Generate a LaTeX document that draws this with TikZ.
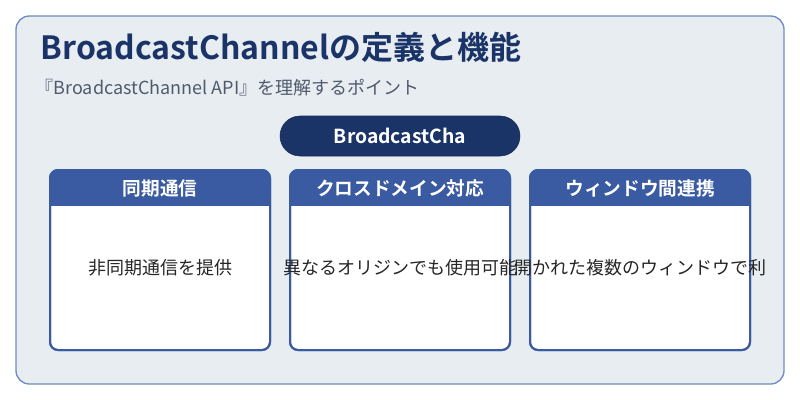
\documentclass[tikz,border=0pt]{standalone}
\usepackage{fontspec}
\setmainfont{Noto Sans CJK JP}
\newfontfamily\jpbold{Noto Sans CJK JP Bold}
\usetikzlibrary{positioning}
\definecolor{panelbg}{HTML}{E8EDF2}
\definecolor{panelline}{HTML}{6F8CC0}
\definecolor{navy}{HTML}{1B3468}
\definecolor{headblue}{HTML}{3A5BA2}
\definecolor{subgray}{HTML}{4F5B6B}
\begin{document}
\begin{tikzpicture}[x=0.75pt, y=-0.75pt,
  cardbody/.style={draw=headblue, line width=1.5pt, fill=white, rounded corners=6pt},
  cardhead/.style={font=\jpbold\fontsize{14}{16}\selectfont, text=white},
  cardtext/.style={font=\fontsize{13.5}{16}\selectfont, text=black!85}]
   \useasboundingbox (0,0) rectangle (800,400);
   \fill[white] (0,0) rectangle (800,400);
   \draw[panelline, fill=panelbg, line width=1pt, rounded corners=10pt] (16,16) rectangle (784,384);
   \node[anchor=west, text=navy, font=\jpbold\fontsize{24}{28}\selectfont] (title) at (36,47) {BroadcastChannelの定義と機能};
   \node[anchor=west, text=subgray, font=\fontsize{13.5}{16}\selectfont] (sub) at (31,88) {『BroadcastChannel API』を理解するポイント};
   \draw[fill=navy, draw=navy!80!black, rounded corners=15pt] (280,116) rectangle (520,156);
   \node[text=white, font=\jpbold\fontsize{14.5}{17}\selectfont] (pill) at (400,136) {BroadcastCha};
   \foreach \x/\name/\head/\body in {50/sync/同期通信/非同期通信を提供,
       290/cross/クロスドメイン対応/異なるオリジンでも使用可能,
       530/win/ウィンドウ間連携/開かれた複数のウィンドウで利} {
     \draw[cardbody] (\x,170) rectangle ++(220,180);
     \begin{scope}
       \clip[rounded corners=6pt] (\x,170) rectangle ++(220,180);
       \fill[headblue] (\x,170) rectangle ++(220,36);
     \end{scope}
     \draw[headblue, line width=1.5pt, rounded corners=6pt] (\x,170) rectangle ++(220,180);
     \node[cardhead] (\name-head) at (\x+110,188) {\head};
     \node[cardtext] (\name-text) at (\x+110,268) {\body};
   }
\end{tikzpicture}
\end{document}
